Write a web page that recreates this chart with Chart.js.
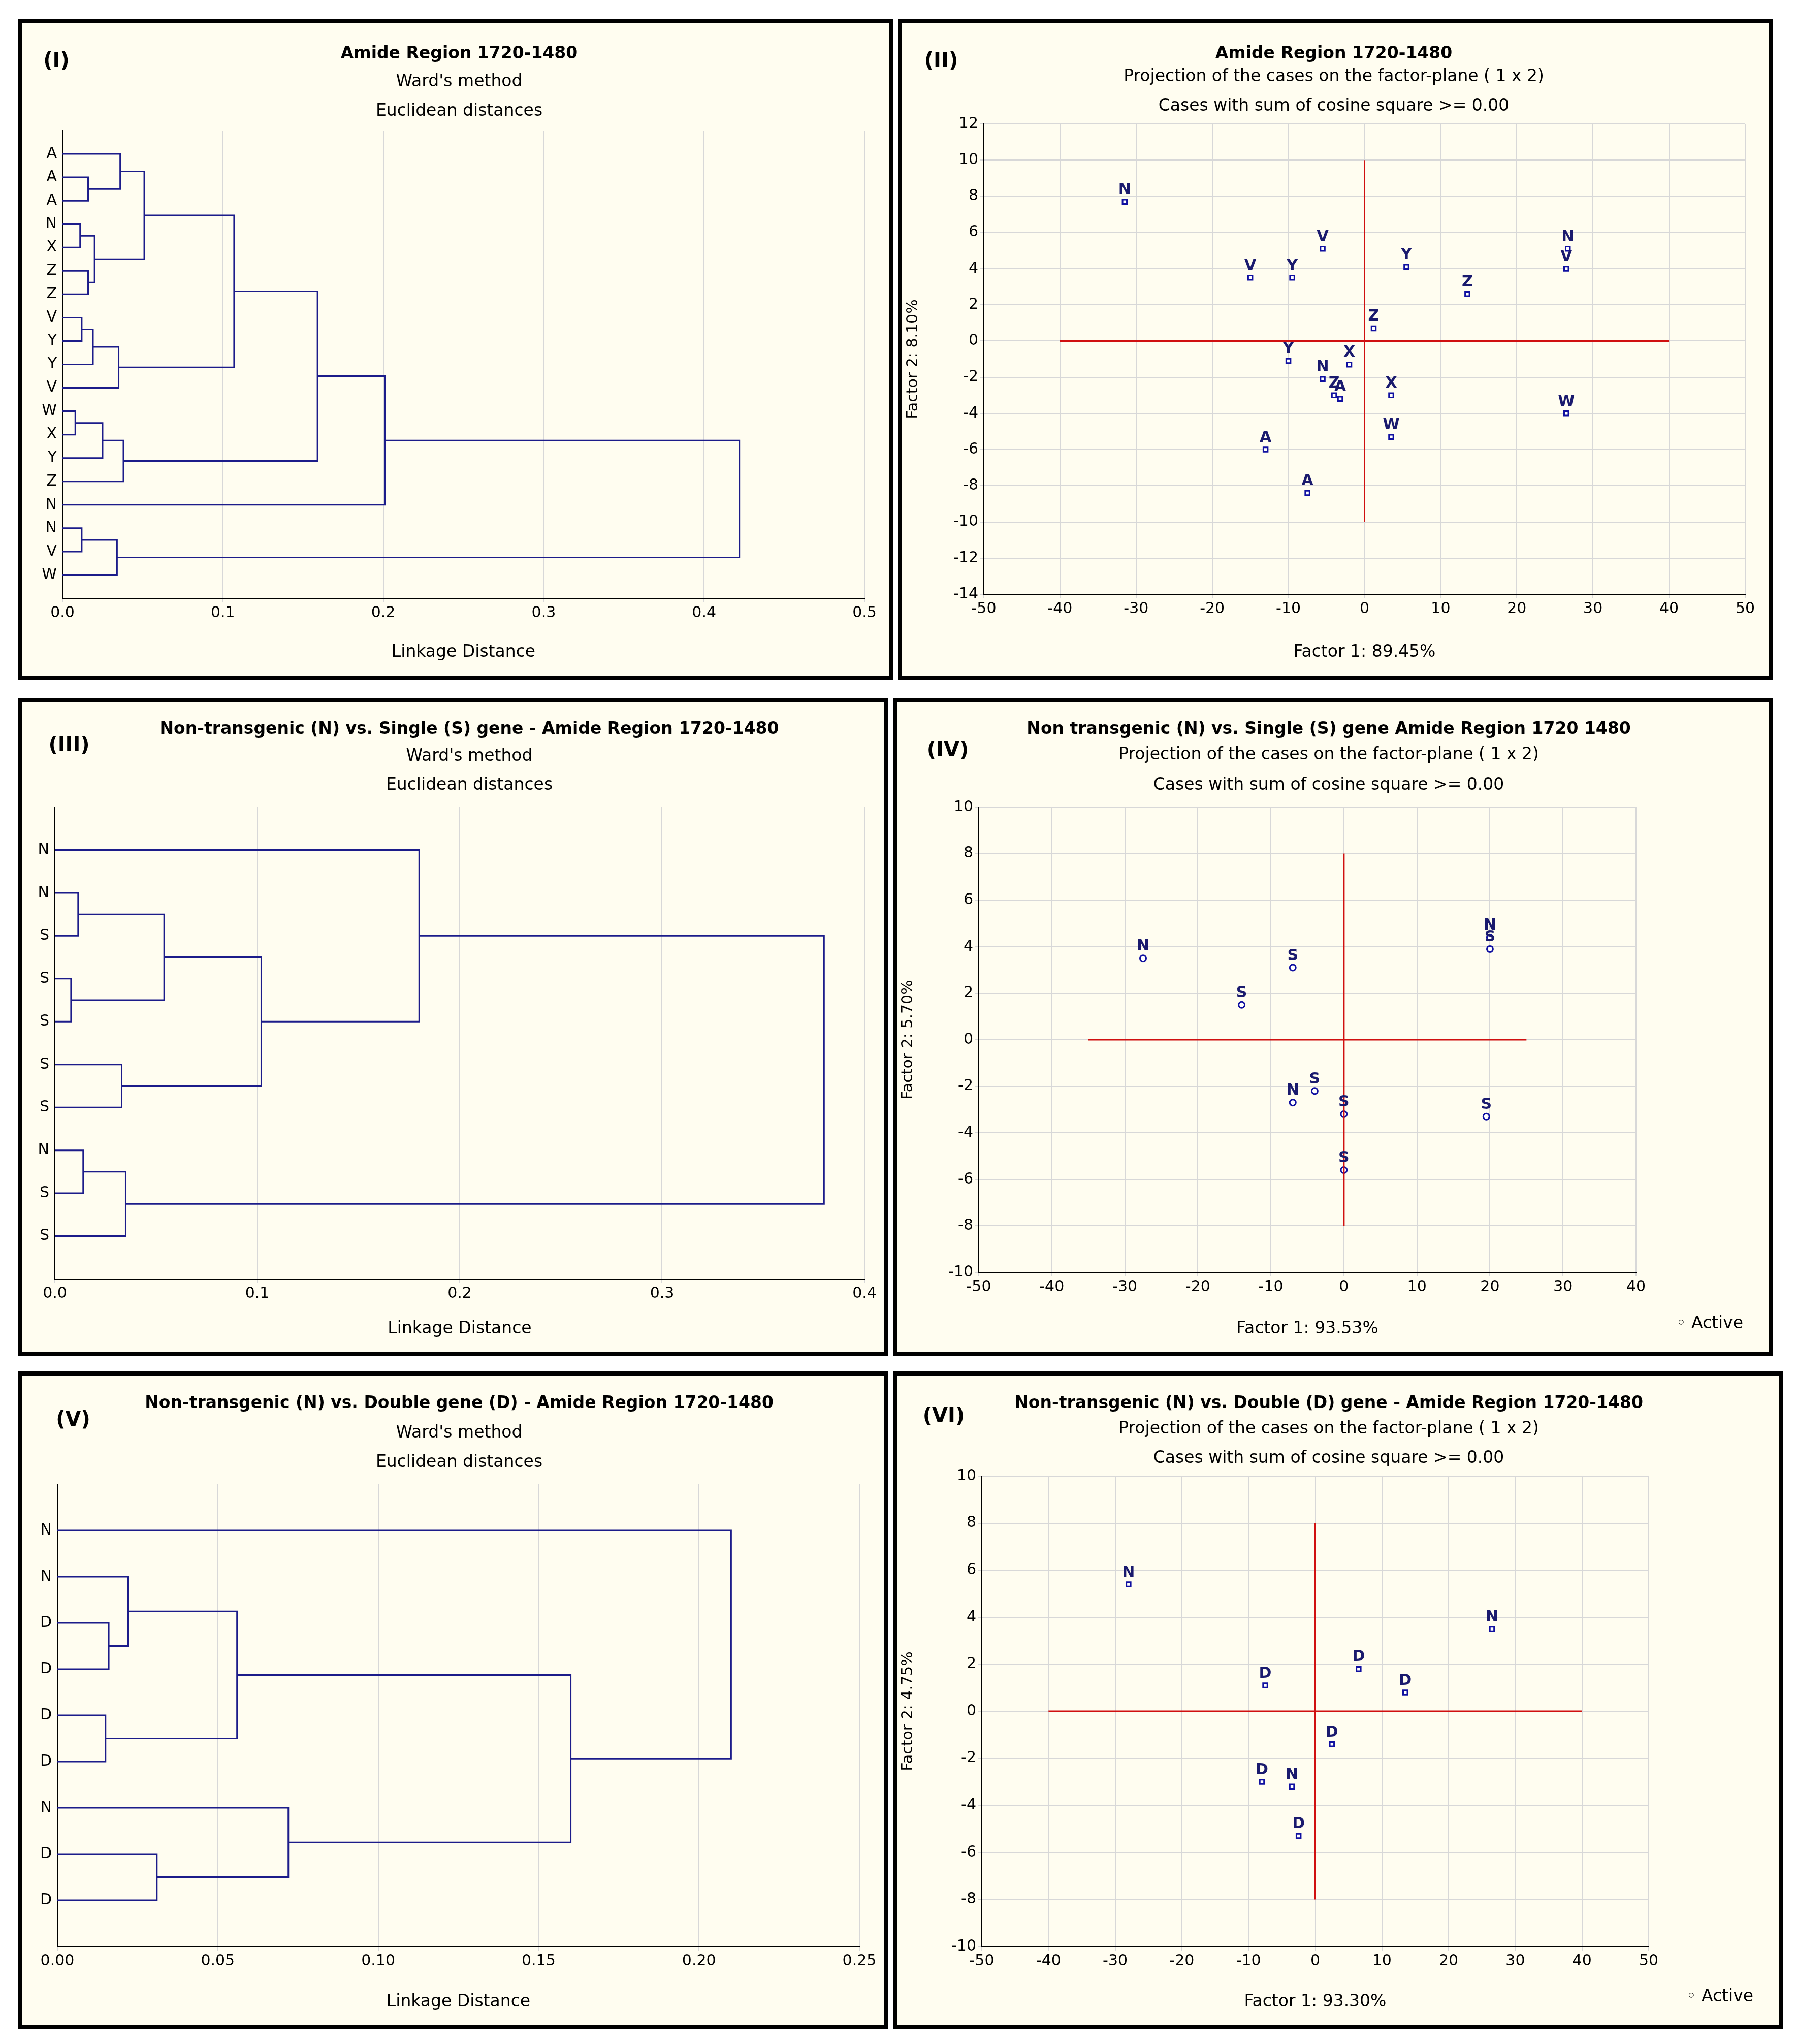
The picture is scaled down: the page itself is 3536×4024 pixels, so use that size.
<!DOCTYPE html>
<html><head><meta charset="utf-8">
<script src="https://cdn.jsdelivr.net/npm/chart.js@4"></script>
<style>
body{margin:0;background:#fff;width:3536px;height:4024px;position:relative;font-family:"DejaVu Sans",sans-serif}
.panel{position:absolute;border:8px solid #000;box-sizing:border-box;background:#fffdf0}
.panel canvas{position:absolute;left:0;top:0}
.t{position:absolute;transform:translate(-50%,-50%);white-space:nowrap;font-size:33px;color:#000}
.b{font-weight:bold}
.tag{position:absolute;transform:translate(-50%,-50%);font-weight:bold;font-size:40px}
</style></head><body>
<script>
// dendrogram I
const d1Leaves = ['A','A','A','N','X','Z','Z','V','Y','Y','V','W','X','Y','Z','N','N','V','W'];
const d1Merges = [[1,2,0.016],[0,19,0.036],[3,4,0.011],[5,6,0.016],[21,22,0.020],[20,23,0.051],[7,8,0.012],[25,9,0.019],[26,10,0.035],[24,27,0.107],[11,12,0.008],[29,13,0.025],[30,14,0.038],[28,31,0.159],[32,15,0.201],[16,17,0.012],[34,18,0.034],[33,35,0.422]];
const d1Ticks = [0, 0.5, 0.1];
// dendrogram III
const d3Leaves = ['N','N','S','S','S','S','S','N','S','S'];
const d3Merges = [[1,2,0.0115],[3,4,0.008],[10,11,0.054],[5,6,0.033],[12,13,0.102],[0,14,0.18],[7,8,0.014],[16,9,0.035],[15,17,0.38]];
const d3Ticks = [0, 0.4, 0.1];
// dendrogram V
const d5Leaves = ['N','N','D','D','D','D','N','D','D'];
const d5Merges = [[2,3,0.016],[1,9,0.022],[4,5,0.015],[10,11,0.056],[7,8,0.031],[6,13,0.072],[12,14,0.160],[0,15,0.21]];
const d5Ticks = [0, 0.25, 0.05];

// scatter II
const s2Labels = ['N','V','Y','V','Y','Z','N','V','Z','Y','X','N','Z','A','X','W','W','A','A'];
const s2X = [-31.5,-15,-9.5,-5.5,5.5,13.5,26.7,26.5,1.2,-10,-2,-5.5,-4,-3.2,3.5,3.5,26.5,-13,-7.5];
const s2Y = [7.7,3.5,3.5,5.1,4.1,2.6,5.1,4.0,0.7,-1.1,-1.3,-2.1,-3.0,-3.2,-3.0,-5.3,-4.0,-6.0,-8.4];
// scatter IV
const s4Labels = ['N','S','S','N','S','N','S','S','S','S'];
const s4X = [-27.5,-14,-7,20,20,-7,-4,0,0,19.5];
const s4Y = [3.5,1.5,3.1,4.4,3.9,-2.7,-2.2,-3.2,-5.6,-3.3];
// scatter VI
const s6Labels = ['N','N','D','D','D','D','D','N','D'];
const s6X = [-28,26.5,-7.5,6.5,13.5,2.5,-8,-3.5,-2.5];
const s6Y = [5.4,3.5,1.1,1.8,0.8,-1.4,-3.0,-3.2,-5.3];

Chart.defaults.font.family = '"DejaVu Sans", sans-serif';
Chart.defaults.color = '#000';

const labelPlugin = {
  id: 'ptlabels',
  afterDatasetsDraw(chart) {
    const ctx = chart.ctx;
    chart.data.datasets.forEach((ds, i) => {
      if (!ds.ptLabels) return;
      const meta = chart.getDatasetMeta(i);
      ctx.save();
      ctx.font = 'bold 30px "DejaVu Sans", sans-serif';
      ctx.fillStyle = '#1a1a6e';
      ctx.textAlign = 'center';
      ctx.textBaseline = 'bottom';
      meta.data.forEach((p, j) => ctx.fillText(ds.ptLabels[j], p.x, p.y - 8));
      ctx.restore();
    });
  }
};

function panel(left, top, w, h) {
  const d = document.createElement('div');
  d.className = 'panel';
  Object.assign(d.style, {left: left + 'px', top: top + 'px', width: w + 'px', height: h + 'px'});
  document.body.appendChild(d);
  const c = document.createElement('canvas');
  c.width = w - 16; c.height = h - 16;
  d.appendChild(c);
  return [d, c];
}

function text(parent, x, y, s, cls) {
  const e = document.createElement('div');
  e.className = cls || 't';
  e.style.left = x + 'px'; e.style.top = y + 'px';
  e.textContent = s;
  parent.appendChild(e);
}

function dendro(box, leaves, merges, tk, pad, xTitle) {
  const [d, c] = panel(...box);
  const n = leaves.length;
  const pos = leaves.map((_, i) => i);
  const hgt = leaves.map(() => 0);
  const datasets = [];
  merges.forEach(([a, b, h]) => {
    datasets.push({
      data: [{x: hgt[a], y: pos[a]}, {x: h, y: pos[a]}, {x: h, y: pos[b]}, {x: hgt[b], y: pos[b]}],
      showLine: true, borderColor: '#1c1c8a', borderWidth: 3, pointRadius: 0, tension: 0
    });
    pos.push((pos[a] + pos[b]) / 2);
    hgt.push(h);
  });
  const dec = tk[2] < 0.1 ? 2 : 1;
  new Chart(c, {
    type: 'scatter',
    data: {datasets},
    options: {
      responsive: false, devicePixelRatio: 1, animation: false,
      layout: {padding: {top: pad[1], right: pad[2], left: 0, bottom: 22}},
      plugins: {legend: {display: false}, tooltip: {enabled: false}},
      scales: {
        x: {min: tk[0], max: tk[1], ticks: {stepSize: tk[2], font: {size: 30}, callback: v => v.toFixed(dec)},
            grid: {color: '#d8d8d8', lineWidth: 2}, border: {color: '#000', width: 2},
            title: {display: true, text: xTitle, font: {size: 33}, padding: {top: 6}},
            afterFit: s => { s.height = pad[3] - 22; }},
        y: {reverse: true, min: -1, max: n, grid: {display: false}, border: {color: '#000', width: 2},
            afterBuildTicks: s => { s.ticks = leaves.map((_, i) => ({value: i})); },
            ticks: {font: {size: 30}, autoSkip: false, callback: v => leaves[v]},
            afterFit: s => { s.width = pad[0]; }}
      }
    }
  });
  return d;
}

function scatter(box, labels, xs, ys, xr, yr, hline, vline, pad, xTitle, yTitle, style) {
  const [d, c] = panel(...box);
  const pts = xs.map((x, i) => ({x, y: ys[i]}));
  new Chart(c, {
    type: 'scatter',
    data: {datasets: [
      {data: [{x: hline[0], y: 0}, {x: hline[1], y: 0}], showLine: true, borderColor: '#d01010', borderWidth: 3, pointRadius: 0},
      {data: [{x: 0, y: vline[0]}, {x: 0, y: vline[1]}], showLine: true, borderColor: '#d01010', borderWidth: 3, pointRadius: 0},
      {data: pts, ptLabels: labels, pointStyle: style, pointRadius: 6, borderWidth: 3,
       borderColor: '#1010a0', backgroundColor: '#fff'}
    ]},
    options: {
      responsive: false, devicePixelRatio: 1, animation: false,
      layout: {padding: {top: pad[1], right: pad[2], left: 0, bottom: 22}},
      plugins: {legend: {display: false}, tooltip: {enabled: false}},
      scales: {
        x: {min: xr[0], max: xr[1], ticks: {stepSize: 10, font: {size: 30}},
            grid: {color: '#d8d8d8', lineWidth: 2}, border: {color: '#000', width: 2},
            title: {display: true, text: xTitle, font: {size: 33}, padding: {top: 6}},
            afterFit: s => { s.height = pad[3] - 22; }},
        y: {min: yr[0], max: yr[1], ticks: {stepSize: 2, font: {size: 30}},
            grid: {color: '#d8d8d8', lineWidth: 2}, border: {color: '#000', width: 2},
            title: {display: true, text: yTitle, font: {size: 30}, padding: {bottom: 20}},
            afterFit: s => { s.width = pad[0]; }}
      }
    },
    plugins: [labelPlugin]
  });
  return d;
}

let p;
p = dendro([36, 38, 1722, 1300], d1Leaves, d1Merges, d1Ticks, [79, 211, 48, 152], 'Linkage Distance');
text(p, 67, 72, '(I)', 'tag');
text(p, 860, 57, 'Amide Region 1720-1480', 't b');
text(p, 860, 112, "Ward's method");
text(p, 860, 170, 'Euclidean distances');

p = scatter([1768, 38, 1722, 1300], s2Labels, s2X, s2Y, [-50, 50], [-14, 12], [-40, 40], [-10, 10],
  [161, 198, 46, 160], 'Factor 1: 89.45%', 'Factor 2: 8.10%', 'rect');
text(p, 77, 72, '(II)', 'tag');
text(p, 850, 57, 'Amide Region 1720-1480', 't b');
text(p, 850, 102, 'Projection of the cases on the factor-plane (  1 x   2)');
text(p, 850, 160, 'Cases with sum of cosine square >=  0.00');

p = dendro([36, 1375, 1712, 1295], d3Leaves, d3Merges, d3Ticks, [64, 206, 38, 144], 'Linkage Distance');
text(p, 92, 82, '(III)', 'tag');
text(p, 880, 50, 'Non-transgenic (N) vs. Single (S) gene - Amide Region 1720-1480', 't b');
text(p, 880, 103, "Ward's method");
text(p, 880, 160, 'Euclidean distances');

p = scatter([1758, 1375, 1732, 1295], s4Labels, s4X, s4Y, [-50, 40], [-10, 10], [-35, 25], [-8, 8],
  [161, 206, 261, 157], 'Factor 1: 93.53%', 'Factor 2: 5.70%', 'circle');
text(p, 100, 92, '(IV)', 'tag');
text(p, 850, 50, 'Non transgenic (N) vs. Single (S) gene   Amide Region 1720 1480', 't b');
text(p, 850, 100, 'Projection of the cases on the factor-plane (  1 x   2)');
text(p, 850, 160, 'Cases with sum of cosine square >=  0.00');
text(p, 1600, 1220, '\u25E6   Active');

p = dendro([36, 2700, 1712, 1295], d5Leaves, d5Merges, d5Ticks, [69, 214, 48, 155], 'Linkage Distance');
text(p, 100, 85, '(V)', 'tag');
text(p, 860, 52, 'Non-transgenic (N) vs. Double gene (D) - Amide Region 1720-1480', 't b');
text(p, 860, 110, "Ward's method");
text(p, 860, 168, 'Euclidean distances');

p = scatter([1758, 2700, 1752, 1295], s6Labels, s6X, s6Y, [-50, 50], [-10, 10], [-40, 40], [-8, 8],
  [167, 198, 256, 155], 'Factor 1: 93.30%', 'Factor 2: 4.75%', 'rect');
text(p, 92, 78, '(VI)', 'tag');
text(p, 850, 52, 'Non-transgenic (N) vs. Double (D) gene - Amide Region 1720-1480', 't b');
text(p, 850, 102, 'Projection of the cases on the factor-plane (  1 x   2)');
text(p, 850, 160, 'Cases with sum of cosine square >=  0.00');
text(p, 1620, 1220, '\u25E6   Active');
</script>
</body></html>
